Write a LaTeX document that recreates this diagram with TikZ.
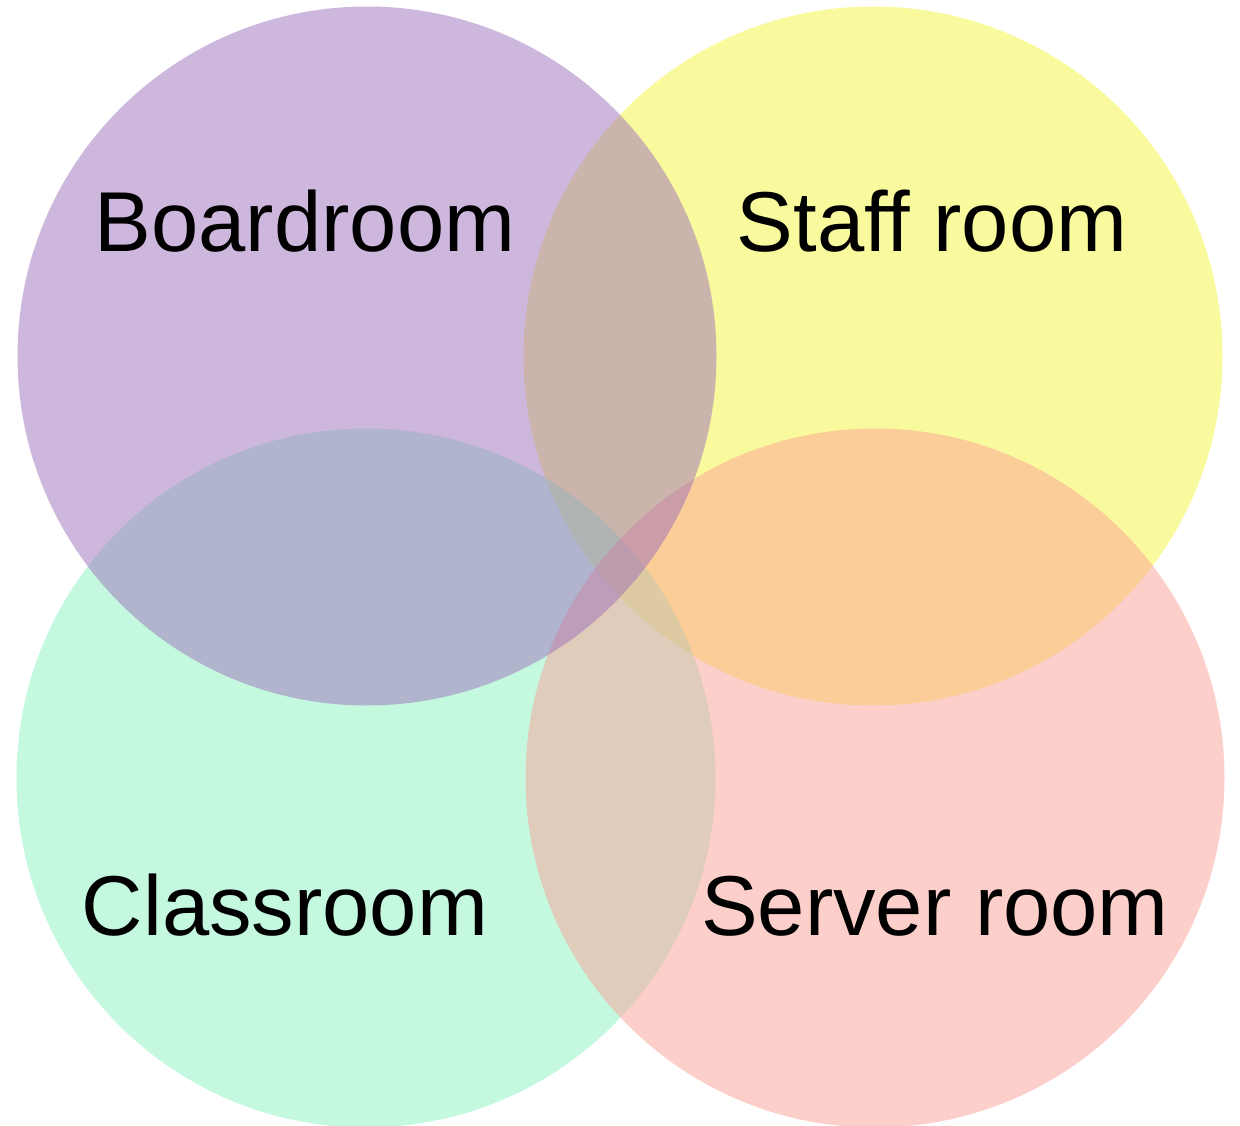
\documentclass[tikz,border=0pt]{standalone}
\usepackage{fontspec}
\setmainfont{Liberation Sans}
\usepackage{tikz}

\definecolor{boardpurple}{RGB}{158,112,186}
\definecolor{staffyellow}{RGB}{244,244,60}
\definecolor{classgreen}{RGB}{138,243,193}
\definecolor{serverpink}{RGB}{250,160,150}

\begin{document}
\begin{tikzpicture}[x=1pt,y=-1pt,
    room/.style={fill opacity=0.5},
    lbl/.style={anchor=base,inner sep=0pt,font=\fontsize{85}{100}\selectfont}]
        \useasboundingbox (0,0) rectangle (1240,1126);
        \coordinate (board) at (367,356);
        \coordinate (staff) at (873,356);
        \coordinate (class) at (366,778);
        \coordinate (server) at (875,778);
        % sets, back to front
        \fill[room,staffyellow] (staff) circle[radius=349.5];
        \fill[room,classgreen] (class) circle[radius=349.5];
        \fill[room,serverpink] (server) circle[radius=349.5];
        \fill[room,boardpurple] (board) circle[radius=349.5];
        \node[lbl] (boardlbl) at (305,252) {Boardroom};
        \node[lbl] (stafflbl) at (932,252) {Staff room};
        \node[lbl] (classlbl) at (285,935) {Classroom};
        \node[lbl] (serverlbl) at (935,935) {Server room};
      \end{tikzpicture}
\end{document}
